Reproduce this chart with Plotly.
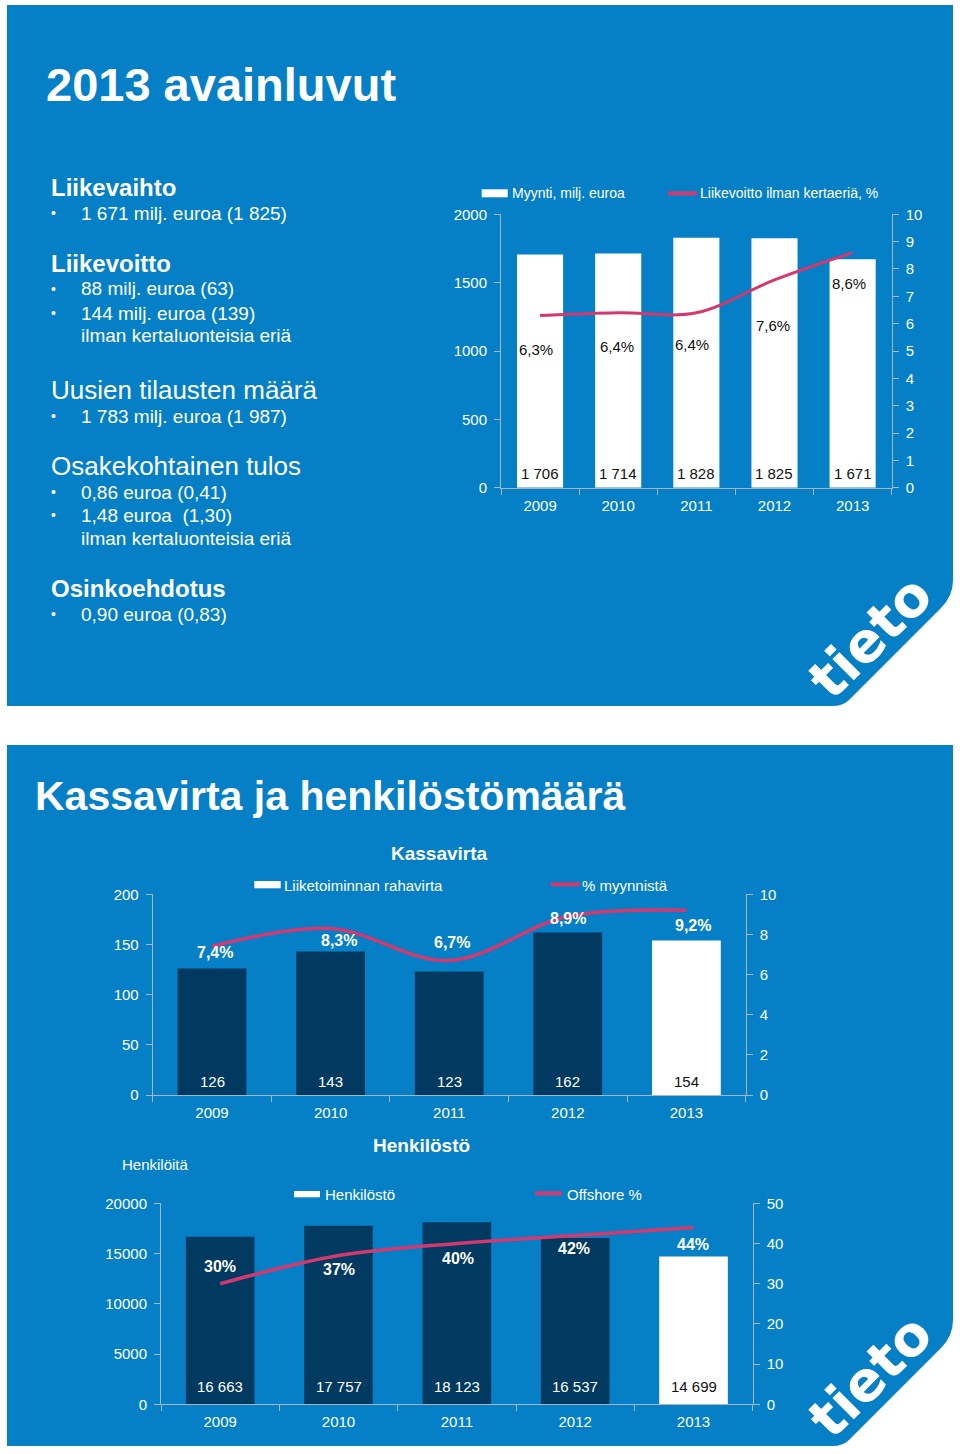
import plotly.graph_objects as go

W, H = 960, 1454

# ---------------- data ----------------
years = ["2009", "2010", "2011", "2012", "2013"]

sales = [1706, 1714, 1828, 1825, 1671]          # Myynti, milj. euroa
ebit_pct = [6.3, 6.4, 6.4, 7.6, 8.6]            # Liikevoitto ilman kertaeriä, %

cashflow = [126, 143, 123, 162, 154]            # Liiketoiminnan rahavirta
cash_pct = [7.4, 8.3, 6.7, 8.9, 9.2]            # % myynnistä

staff = [16663, 17757, 18123, 16537, 14699]     # Henkilöstö
offshore = [30, 37, 40, 42, 44]                 # Offshore %

# label offsets (styling, px)
ebit_lbl_dy = [-34, -34, -32, -46, -31]
ebit_lbl_dx = [-4, -1, -4, -1, -4]
cash_lbl_dy = [-6, -12, 18, -2, -15]
cash_lbl_dx = [3, 8, 3, 0, 7]
off_lbl_dy = [17, -14, -15, -13, -17]
off_lbl_dx = [0, 0, 1, -1, -1]

# ---------------- style ----------------
BLUE = "#0580C6"
DARK = "#003A60"
LINEC = "#D3386E"
AXC = "#A9B6C2"
FONT = "Liberation Sans, Arial, Helvetica, sans-serif"

xpos = list(range(len(years)))
bounds = [i - 0.5 for i in range(len(years) + 1)]


def px(x):
    return x / W


def py(y):
    return 1 - y / H


def fmt_thousands(v):
    return f"{v:,}".replace(",", " ")


def fmt_pct1(v):
    return f"{v:.1f}".replace(".", ",") + "%"


fig = go.Figure()

# ---------------- traces ----------------
bar_colors_bottom = [DARK, DARK, DARK, DARK, "#FFFFFF"]

fig.add_trace(go.Bar(x=xpos, y=sales, marker=dict(color="#FFFFFF", line=dict(width=0)),
                     width=0.59, xaxis="x", yaxis="y", showlegend=False, hoverinfo="skip"))
fig.add_trace(go.Scatter(x=xpos, y=ebit_pct, mode="lines",
                         line=dict(color=LINEC, width=3, shape="spline", smoothing=1),
                         xaxis="x", yaxis="y2", showlegend=False, hoverinfo="skip"))

fig.add_trace(go.Bar(x=xpos, y=cashflow, marker=dict(color=bar_colors_bottom, line=dict(width=0)),
                     width=0.58, xaxis="x2", yaxis="y3", showlegend=False, hoverinfo="skip"))
fig.add_trace(go.Scatter(x=xpos, y=cash_pct, mode="lines",
                         line=dict(color=LINEC, width=3.5, shape="spline", smoothing=1),
                         xaxis="x2", yaxis="y4", showlegend=False, hoverinfo="skip"))

fig.add_trace(go.Bar(x=xpos, y=staff, marker=dict(color=bar_colors_bottom, line=dict(width=0)),
                     width=0.58, xaxis="x3", yaxis="y5", showlegend=False, hoverinfo="skip"))
fig.add_trace(go.Scatter(x=xpos, y=offshore, mode="lines",
                         line=dict(color=LINEC, width=3.5, shape="spline", smoothing=1),
                         xaxis="x3", yaxis="y6", showlegend=False, hoverinfo="skip"))


# ---------------- axes ----------------
def xax(domain, anchor):
    return dict(domain=domain, anchor=anchor, range=[bounds[0], bounds[-1]],
                tickmode="array", tickvals=xpos, ticktext=years, automargin=False,
                showgrid=False, zeroline=False, showline=True, linecolor=AXC, linewidth=1,
                ticks="",
                minor=dict(tickmode="array", tickvals=bounds, ticks="outside", ticklen=6,
                           tickcolor=AXC, showgrid=False),
                tickfont=dict(color="white", size=15, family=FONT), ticklabelstandoff=4,
                fixedrange=True)


def yax(rng, dtick, side, anchor, domain=None, overlaying=None, fmt=None):
    d = dict(range=rng, dtick=dtick, tick0=0, side=side, anchor=anchor, automargin=False,
             showgrid=False, zeroline=False, showline=True, linecolor=AXC, linewidth=1,
             ticks="outside", ticklen=6, tickcolor=AXC,
             tickfont=dict(color="white", size=15, family=FONT), ticklabelstandoff=4,
             fixedrange=True)
    if domain is not None:
        d["domain"] = domain
    if overlaying is not None:
        d["overlaying"] = overlaying
    if fmt:
        d["tickformat"] = fmt
    return d


fig.update_layout(
    xaxis=xax([px(501), px(891.7)], "y"),
    yaxis=yax([0, 2000], 500, "left", "x", domain=[py(487.7), py(214.3)], fmt="d"),
    yaxis2=yax([0, 10], 1, "right", "x", overlaying="y"),
    xaxis2=xax([px(152.7), px(745.7)], "y3"),
    yaxis3=yax([0, 200], 50, "left", "x2", domain=[py(1095), py(894.3)], fmt="d"),
    yaxis4=yax([0, 10], 2, "right", "x2", overlaying="y3"),
    xaxis3=xax([px(161), px(752.7)], "y5"),
    yaxis5=yax([0, 20000], 5000, "left", "x3", domain=[py(1404.3), py(1203.3)], fmt="d"),
    yaxis6=yax([0, 50], 10, "right", "x3", overlaying="y5"),
)


# ---------------- panels (background shapes) ----------------
def panel_path(top, bottom):
    pts = [
        ("M", 7, top), ("L", 953, top), ("L", 953, bottom - 126),
        ("Q", 953, bottom - 110, 941, bottom - 98),
        ("L", 849, bottom - 6),
        ("Q", 843, bottom, 832, bottom), ("L", 7, bottom),
    ]
    s = ""
    for p in pts:
        if p[0] == "Q":
            s += f"Q {px(p[1])},{py(p[2])} {px(p[3])},{py(p[4])} "
        else:
            s += f"{p[0]} {px(p[1])},{py(p[2])} "
    return s + "Z"


shapes = [
    dict(type="path", xref="paper", yref="paper", path=panel_path(5, 706),
         fillcolor=BLUE, line=dict(width=0), layer="below"),
    dict(type="path", xref="paper", yref="paper", path=panel_path(745, 1446),
         fillcolor=BLUE, line=dict(width=0), layer="below"),
    # legend swatches
    dict(type="rect", xref="paper", yref="paper", x0=px(481.7), x1=px(507.7), y0=py(197.3), y1=py(189.3),
         fillcolor="white", line=dict(width=0)),
    dict(type="line", xref="paper", yref="paper", x0=px(668), x1=px(697), y0=py(193.3), y1=py(193.3),
         line=dict(color=LINEC, width=4)),
    dict(type="rect", xref="paper", yref="paper", x0=px(254.3), x1=px(280.7), y0=py(888.3), y1=py(881),
         fillcolor="white", line=dict(width=0)),
    dict(type="line", xref="paper", yref="paper", x0=px(550.7), x1=px(580), y0=py(884.3), y1=py(884.3),
         line=dict(color=LINEC, width=4)),
    dict(type="rect", xref="paper", yref="paper", x0=px(294), x1=px(320), y0=py(1197.3), y1=py(1191),
         fillcolor="white", line=dict(width=0)),
    dict(type="line", xref="paper", yref="paper", x0=px(535), x1=px(562), y0=py(1193.3), y1=py(1193.3),
         line=dict(color=LINEC, width=4)),
]

ann = []


def text(t, x, y, size, bold=False, color="white", anchor="left", angle=0, family=FONT):
    ann.append(dict(text=f"<b>{t}</b>" if bold else t, xref="paper", yref="paper",
                    x=px(x), y=py(y), xanchor=anchor, yanchor="middle", showarrow=False,
                    textangle=angle, font=dict(size=size, color=color, family=family)))


# ---------------- top panel text ----------------
text("2013 avainluvut", 44, 85, 47, bold=True)

heads = [("Liikevaihto", 187, True), ("Liikevoitto", 263, True),
         ("Uusien tilausten määrä", 390, False), ("Osakekohtainen tulos", 466, False),
         ("Osinkoehdotus", 588, True)]
for t, y, b in heads:
    text(t, 49, y, 24 if b else 26, bold=b)

bullets = [("1 671 milj. euroa (1 825)", 213, True), ("88 milj. euroa (63)", 289, True),
           ("144 milj. euroa (139)", 313, True), ("ilman kertaluonteisia eriä", 335, False),
           ("1 783 milj. euroa (1 987)", 416, True), ("0,86 euroa (0,41)", 492, True),
           ("1,48 euroa  (1,30)", 515, True), ("ilman kertaluonteisia eriä", 538, False),
           ("0,90 euroa (0,83)", 614, True)]
for t, y, b in bullets:
    if b:
        text("•", 49, y, 14)
    text(t.replace("  ", "\u00a0 "), 79, y, 19)

# top legend texts
text("Myynti, milj. euroa", 510, 193.5, 14)
text("Liikevoitto ilman kertaeriä, %", 698, 193.5, 14)

# bottom panel text
text("Kassavirta ja henkilöstömäärä", 33, 796, 41, bold=True)
text("Kassavirta", 439, 853, 19, bold=True, anchor="center")
text("Liiketoiminnan rahavirta", 282, 885, 15)
text("% myynnistä", 580, 885, 15)
text("Henkilöstö", 421, 1145, 19, bold=True, anchor="center")
text("Henkilöitä", 120, 1164, 15)
text("Henkilöstö", 323, 1194, 15)
text("Offshore %", 565, 1194, 15)

# logos
text("tieto", 870, 637, 55, bold=True, anchor="center", angle=-45, family="DejaVu Sans, sans-serif")
text("tieto", 870, 1376, 55, bold=True, anchor="center", angle=-45, family="DejaVu Sans, sans-serif")


# ---------------- data labels ----------------
def data_label(t, xa, ya, xv, yv, size, color, bold=False, dx=0, dy=0):
    ann.append(dict(text=f"<b>{t}</b>" if bold else t, xref=xa, yref=ya, x=xv, y=yv,
                    xanchor="center", yanchor="middle", showarrow=False, xshift=dx, yshift=dy,
                    font=dict(size=size, color=color, family=FONT)))


for i in xpos:
    data_label(fmt_thousands(sales[i]), "x", "y", i, 0, 15, "#111111", dy=14)
    data_label(fmt_pct1(ebit_pct[i]), "x", "y2", i, ebit_pct[i], 15, "#111111",
               dx=ebit_lbl_dx[i], dy=ebit_lbl_dy[i])

    data_label(fmt_thousands(cashflow[i]), "x2", "y3", i, 0, 15,
               "white" if i < 4 else "#111111", dy=14)
    data_label(fmt_pct1(cash_pct[i]), "x2", "y4", i, cash_pct[i], 16, "white", bold=True,
               dx=cash_lbl_dx[i], dy=cash_lbl_dy[i])

    data_label(fmt_thousands(staff[i]), "x3", "y5", i, 0, 15,
               "white" if i < 4 else "#111111", dy=18)
    data_label(f"{offshore[i]}%", "x3", "y6", i, offshore[i], 16, "white", bold=True,
               dx=off_lbl_dx[i], dy=off_lbl_dy[i])

fig.update_layout(
    width=W, height=H,
    margin=dict(l=0, r=0, t=0, b=0, pad=0, autoexpand=False),
    paper_bgcolor="white", plot_bgcolor="rgba(0,0,0,0)",
    shapes=shapes, annotations=ann,
    showlegend=False, barmode="overlay",
    font=dict(family=FONT, color="white"),
)

post = ("document.documentElement.style.margin='0';document.body.style.margin='0';"
        "document.body.style.overflow='hidden';"
        "var d=document.getElementById('{plot_id}');"
        "d.style.position='absolute';d.style.left='0px';d.style.top='0px';")

fig.write_html("out.html", include_plotlyjs=True, config={"displayModeBar": False},
               post_script=post)
